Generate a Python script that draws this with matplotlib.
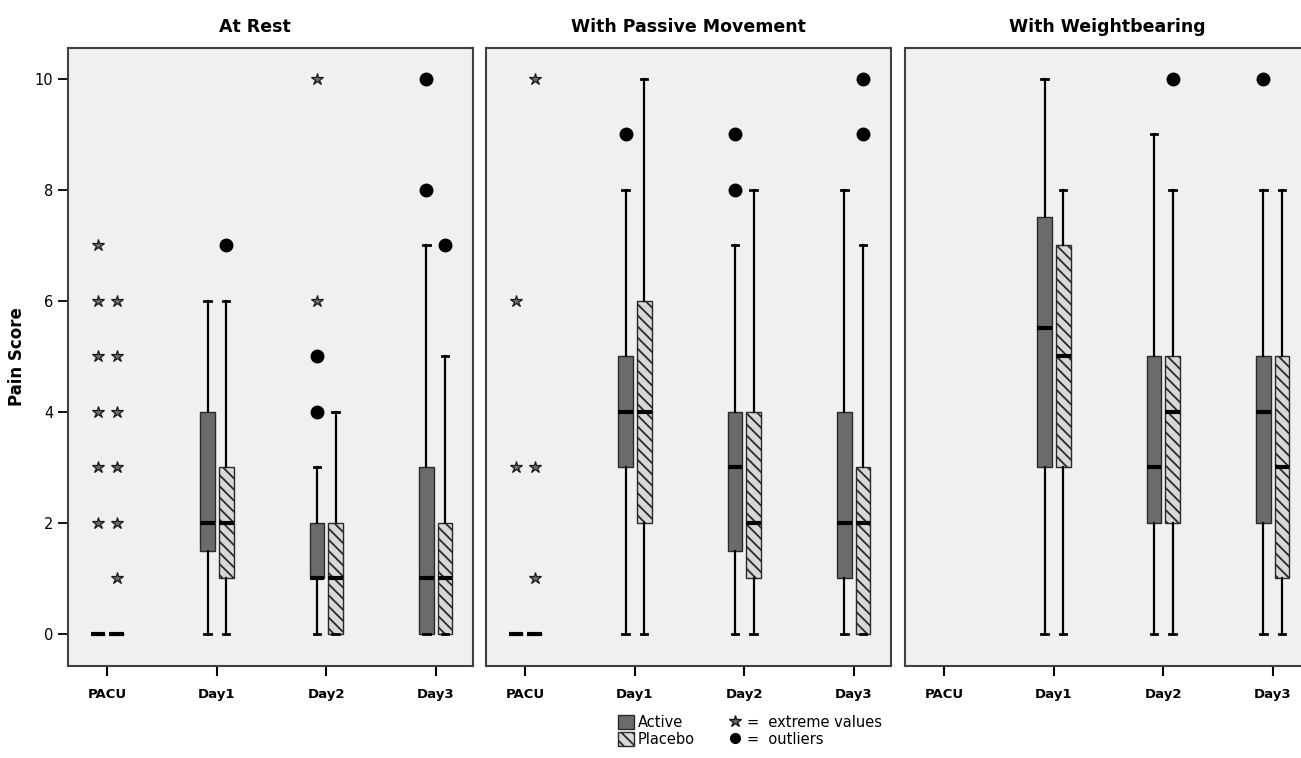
import matplotlib
matplotlib.use("Agg")
import matplotlib.pyplot as plt
from matplotlib.patches import Patch
from matplotlib.lines import Line2D

# categories and panels
days = ["PACU", "Day1", "Day2", "Day3"]
panels = ["At Rest", "With Passive Movement", "With Weightbearing"]

# box stats per panel, per day: (whislo, q1, med, q3, whishi) or None
rest_active = [(0, 0, 0, 0, 0), (0, 1.5, 2, 4, 6), (0, 1, 1, 2, 3), (0, 0, 1, 3, 7)]
rest_placebo = [(0, 0, 0, 0, 0), (0, 1, 2, 3, 6), (0, 0, 1, 2, 4), (0, 0, 1, 2, 5)]
passive_active = [(0, 0, 0, 0, 0), (0, 3, 4, 5, 8), (0, 1.5, 3, 4, 7), (0, 1, 2, 4, 8)]
passive_placebo = [(0, 0, 0, 0, 0), (0, 2, 4, 6, 10), (0, 1, 2, 4, 8), (0, 0, 2, 3, 7)]
weight_active = [None, (0, 3, 5.5, 7.5, 10), (0, 2, 3, 5, 9), (0, 2, 4, 5, 8)]
weight_placebo = [None, (0, 3, 5, 7, 8), (0, 2, 4, 5, 8), (0, 1, 3, 5, 8)]

# outliers (dots) and extreme values (stars): lists of values per day
rest_active_out = [[], [], [4, 5], [8, 10]]
rest_placebo_out = [[], [7], [], [7]]
rest_active_ext = [[2, 3, 4, 5, 6, 7], [], [6, 10], []]
rest_placebo_ext = [[1, 2, 3, 4, 5, 6], [], [], []]

passive_active_out = [[], [9], [8, 9], []]
passive_placebo_out = [[], [], [], [9, 10]]
passive_active_ext = [[3, 6], [], [], []]
passive_placebo_ext = [[1, 3, 10], [], [], []]

weight_active_out = [[], [], [], [10]]
weight_placebo_out = [[], [], [10], []]
weight_active_ext = [[], [], [], []]
weight_placebo_ext = [[], [], [], []]

groups = [
    (rest_active, rest_placebo, rest_active_out, rest_placebo_out, rest_active_ext, rest_placebo_ext),
    (passive_active, passive_placebo, passive_active_out, passive_placebo_out, passive_active_ext, passive_placebo_ext),
    (weight_active, weight_placebo, weight_active_out, weight_placebo_out, weight_active_ext, weight_placebo_ext),
]

ACTIVE_FC = "#6b6b6b"
PLACEBO_FC = "#d8d8d8"
BG = "#f0f0f0"
STAR_FC = "#6e6e6e"
plt.rcParams["hatch.color"] = "#3a3a3a"
plt.rcParams["hatch.linewidth"] = 1.3

fig = plt.figure(figsize=(13.01, 7.58), dpi=100)
W, H = 1301, 758
lefts = [68, 486, 905]
ax_w = 405
top_px, bot_px = 48, 666
offset = 0.085
bw = 0.135

for p, (title, g) in enumerate(zip(panels, groups)):
    act, plc, aout, pout, aext, pext = g
    ax = fig.add_axes([lefts[p] / W, 1 - bot_px / H, ax_w / W, (bot_px - top_px) / H])
    ax.set_facecolor(BG)
    for vals, fc, hatch, sgn in [(act, ACTIVE_FC, None, -1), (plc, PLACEBO_FC, "\\\\\\", 1)]:
        bxp = []
        pos = []
        for i, v in enumerate(vals):
            if v is None:
                continue
            lo, q1, med, q3, hi = v
            bxp.append(dict(whislo=lo, q1=q1, med=med, q3=q3, whishi=hi, fliers=[]))
            pos.append(i + sgn * offset)
        ax.bxp(bxp, positions=pos, widths=bw, patch_artist=True, manage_ticks=False,
               showfliers=False,
               boxprops=dict(facecolor=fc, edgecolor="#2a2a2a", linewidth=1.0, hatch=hatch),
               whiskerprops=dict(color="black", linewidth=1.6),
               capprops=dict(color="black", linewidth=2.0),
               medianprops=dict(color="black", linewidth=3.0),
               capwidths=0.06)
        outs = aout if sgn < 0 else pout
        exts = aext if sgn < 0 else pext
        for i in range(len(days)):
            x = i + sgn * offset
            if outs[i]:
                ax.plot([x] * len(outs[i]), outs[i], "o", color="black", markersize=9, zorder=5)
            if exts[i]:
                ax.plot([x] * len(exts[i]), exts[i], marker="*", linestyle="none",
                        markerfacecolor=STAR_FC, markeredgecolor="#1a1a1a",
                        markeredgewidth=0.9, markersize=9, zorder=5)
    ax.set_xlim(-0.36, 3.34)
    ax.set_ylim(-0.58, 10.55)
    ax.set_xticks(range(len(days)))
    ax.set_xticklabels(days, fontweight="bold", fontsize=9.5)
    ax.tick_params(axis="x", direction="out", length=7, width=1.5, pad=9)
    for s in ax.spines.values():
        s.set_color("#404040")
        s.set_linewidth(1.5)
    if p == 0:
        ax.set_yticks(range(0, 11, 2))
        ax.tick_params(axis="y", direction="out", length=7, width=1.3, labelsize=10.5)
        ax.set_ylabel("Pain Score", fontweight="bold", fontsize=12, labelpad=6)
    else:
        ax.set_yticks([])
    fig.text((lefts[p] + ax_w / 2 - (16 if p == 0 else 0)) / W, 1 - 27 / H, title,
             ha="center", va="center", fontweight="bold", fontsize=12.5)

handles = [
    Patch(facecolor=ACTIVE_FC, edgecolor="#2a2a2a"),
    Patch(facecolor=PLACEBO_FC, edgecolor="#2a2a2a", hatch="\\\\\\"),
    Line2D([], [], marker="*", linestyle="none", markerfacecolor=STAR_FC,
           markeredgecolor="#1a1a1a", markersize=9),
    Line2D([], [], marker="o", linestyle="none", color="black", markersize=7),
]
labels = ["Active", "Placebo", "=  extreme values", "=  outliers"]
fig.legend(handles, labels, ncol=2, loc="center", bbox_to_anchor=(750 / W, 1 - 731 / H),
           frameon=False, fontsize=10.5, handlelength=1.1, handleheight=1.1,
           handletextpad=0.3, columnspacing=2.2, labelspacing=0.1)

fig.savefig("out.png", dpi=100)
